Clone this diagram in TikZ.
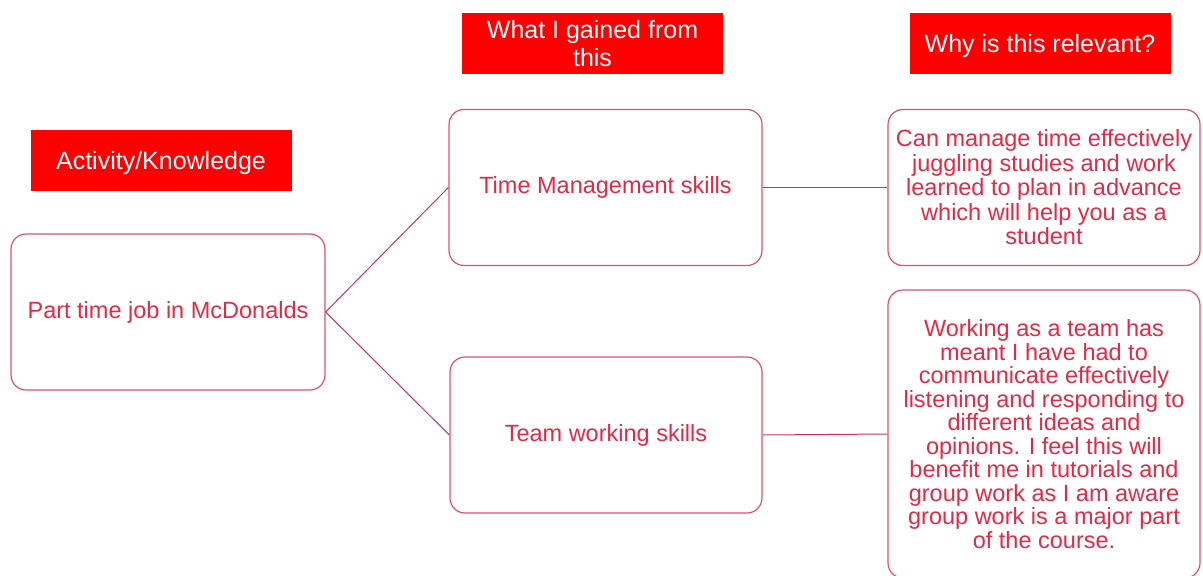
\documentclass[tikz,border=0pt]{standalone}
\usepackage{fontspec}
\setmainfont{Liberation Sans}
\usetikzlibrary{positioning}
\definecolor{hdrred}{RGB}{255,0,0}
\definecolor{txtred}{RGB}{228,40,70}
\definecolor{boxred}{RGB}{222,80,105}
\definecolor{linered}{RGB}{200,55,85}

\begin{document}
\begin{tikzpicture}[x=1pt, y=-1pt,
    header/.style = {fill=hdrred, text=white, inner sep=0pt, minimum width=261pt, minimum height=61pt, align=center, font=\fontsize{25}{28}\selectfont},
    oneline/.style = {text height=17pt, text depth=0pt},
    item/.style = {draw=boxred, line width=1.2pt, rounded corners=15pt, text=txtred, inner sep=0pt, minimum width=313pt, minimum height=156pt, align=center, font=\fontsize{23.5}{24.5}\selectfont},
    link/.style = {draw=linered, line width=1pt}]
    \useasboundingbox (0,0) rectangle (1203,576);
        \node[header, oneline] (act) at (161,160.5) {Activity/Knowledge};
        \node[header] (gain) at (592.5,43.5) {What I gained from\\this};
        \node[header, oneline] (why) at (1040,43.5) {Why is this relevant?};
        \node[item, minimum width=314pt] (job) at (168,312) {Part time job in McDonalds};
        \node[item] (time) at (605.5,187.5) {Time Management skills};
        \node[item, minimum width=312pt] (team) at (606,435) {Team working skills};
        \node[item, minimum width=312pt] (rel1) at (1044,187.5) {Can manage time effectively\\juggling studies and work\\learned to plan in advance\\which will help you as a\\student};
        \node[item, minimum width=312pt, minimum height=288pt, font=\fontsize{23.5}{23.5}\selectfont] (rel2) at (1044,434) {Working as a team has\\meant I have had to\\communicate effectively\\listening and responding to\\different ideas and\\opinions. I feel this will\\benefit me in tutorials and\\group work as I am aware\\group work is a major part\\of the course.};
        \draw[link] (job.east) -- (time.west);
        \draw[link] (job.east) -- (team.west);
        \draw[link] (time.east) -- (rel1.west);
        \draw[link] (team.east) -- (rel2.west);
    \end{tikzpicture}
\end{document}
